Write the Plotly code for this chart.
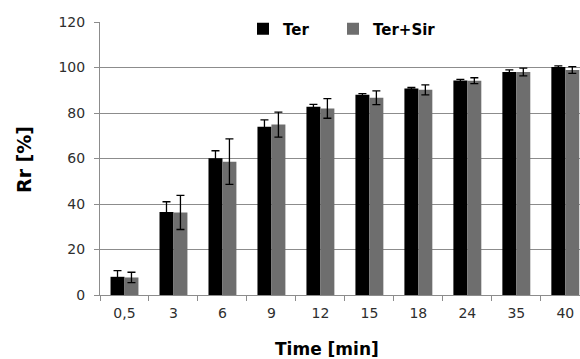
import plotly.graph_objects as go

# Release measured at each sampling time
times = ["0,5", "3", "6", "9", "12", "15", "18", "24", "35", "40"]
ter = [8.0, 36.5, 60.1, 74.0, 82.8, 88.0, 90.8, 94.3, 98.0, 100.2]
ter_err = [2.7, 4.5, 3.3, 3.0, 1.0, 0.5, 0.4, 0.5, 1.0, 0.5]
ter_sir = [7.7, 36.3, 58.6, 74.9, 82.0, 86.7, 90.2, 94.2, 98.0, 98.9]
ter_sir_err = [2.3, 7.5, 10.0, 5.5, 4.3, 3.0, 2.2, 1.3, 1.7, 1.5]

W, H = 580, 359
ML, MR, MT, MB = 100, 0, 22, 64
grid = "#8c8c8c"
tick_font = dict(family="DejaVu Sans", size=14, color="#2e2e2e")
legend_font = dict(family="DejaVu Sans", size=15, color="#000000")

fig = go.Figure()
fig.add_trace(go.Bar(
    x=times, y=ter, name="<b>Ter</b>", legend="legend",
    marker=dict(color="#000000", line=dict(width=0)),
    error_y=dict(type="data", array=ter_err, color="#000000", thickness=1.3, width=4),
))
fig.add_trace(go.Bar(
    x=times, y=ter_sir, name="<b>Ter+Sir</b>", legend="legend2",
    marker=dict(color="#6e6e6e", line=dict(width=0)),
    error_y=dict(type="data", array=ter_sir_err, color="#000000", thickness=1.3, width=4),
))

plot_w = W - ML - MR
plot_h = H - MT - MB


def px_x(p):
    return (p - ML) / plot_w


def px_y(p):
    return (H - MB - p) / plot_h


fig.update_layout(
    width=W, height=H,
    margin=dict(l=ML, r=MR, t=MT, b=MB),
    paper_bgcolor="white", plot_bgcolor="white",
    barmode="group", bargap=0.43, bargroupgap=0,
    showlegend=True,
    legend=dict(
        orientation="h", x=px_x(243), xanchor="left", y=px_y(29), yanchor="middle",
        bgcolor="rgba(0,0,0,0)", font=legend_font,
    ),
    legend2=dict(
        orientation="h", x=px_x(333), xanchor="left", y=px_y(29), yanchor="middle",
        bgcolor="rgba(0,0,0,0)", font=legend_font,
    ),
    xaxis=dict(
        type="category", range=[-0.5, 9.3], showgrid=False,
        showline=True, linecolor=grid, linewidth=1,
        ticks="outside", tickson="boundaries", ticklen=5, tickcolor=grid,
        tickfont=tick_font, ticklabelstandoff=5,
    ),
    yaxis=dict(
        range=[0, 120], tickvals=[0, 20, 40, 60, 80, 100, 120],
        showgrid=True, gridcolor=grid, gridwidth=1, zeroline=False,
        showline=True, linecolor=grid, linewidth=1,
        ticks="outside", ticklen=5, tickcolor=grid,
        tickfont=tick_font, ticklabelstandoff=6,
    ),
    shapes=[dict(
        type="rect", xref="paper", yref="paper",
        x0=px_x(217), x1=px_x(469), y0=px_y(34), y1=px_y(12),
        fillcolor="white", line=dict(width=0), layer="above",
    )],
    annotations=[
        dict(text="<b>Rr [%]</b>", xref="paper", yref="paper", x=px_x(24), y=px_y(160),
             showarrow=False, textangle=-90, xanchor="center", yanchor="middle",
             font=dict(family="DejaVu Sans", size=19, color="#000000")),
        dict(text="<b>Time [min]</b>", xref="paper", yref="paper", x=px_x(327), y=px_y(349),
             showarrow=False, xanchor="center", yanchor="middle",
             font=dict(family="DejaVu Sans", size=17, color="#000000")),
    ],
)

fig.write_html("out.html")
